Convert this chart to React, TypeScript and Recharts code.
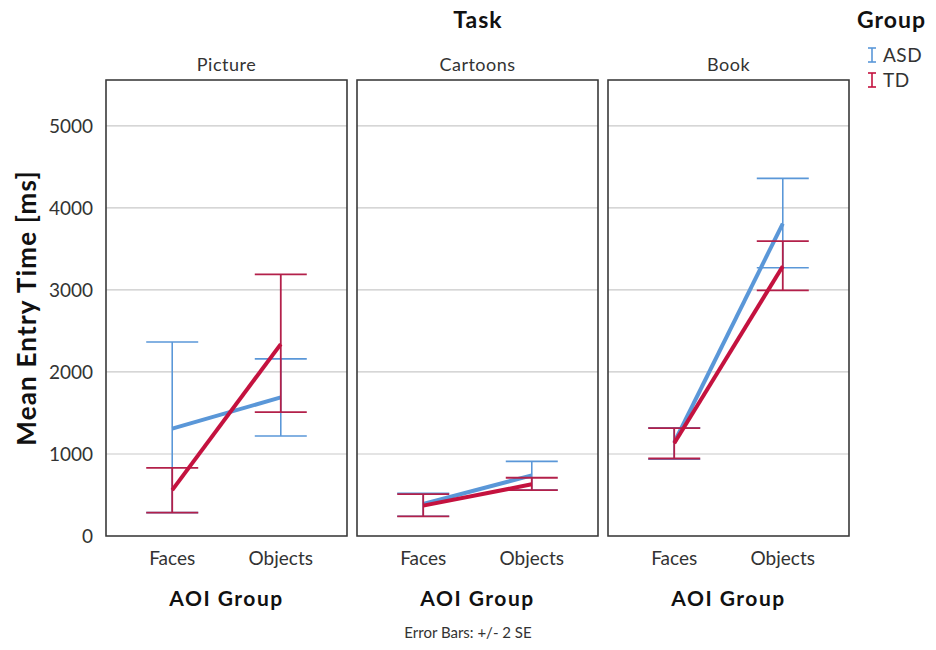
import { LineChart, Line, XAxis, YAxis, CartesianGrid, ErrorBar, ReferenceArea } from 'recharts';

const tasks = ['Picture', 'Cartoons', 'Book'];
const aoiCategories = ['Faces', 'Objects'];
const yTicks = [0, 1000, 2000, 3000, 4000, 5000];

// per task: [Faces, Objects]
const asdMeans = [[1310, 1690], [390, 740], [1140, 3810]];
const asdLow = [[285, 1220], [240, 560], [935, 3270]];
const asdHigh = [[2365, 2160], [520, 910], [1320, 4360]];
const tdMeans = [[560, 2340], [370, 630], [1130, 3290]];
const tdLow = [[285, 1510], [240, 560], [945, 2995]];
const tdHigh = [[830, 3190], [510, 710], [1315, 3595]];

const BLUE = '#5a97d8';
const RED = '#c4123f';
const FONT = 'Lato, "DejaVu Sans", sans-serif';
const X_MIN = 0.39;
const X_MAX = 2.61;
const Y_MAX = 5560;

function buildRows(t: number) {
  return aoiCategories.map((c, i) => ({
    pos: i + 1,
    aoi: c,
    asd: asdMeans[t][i],
    asdErr: [asdMeans[t][i] - asdLow[t][i], asdHigh[t][i] - asdMeans[t][i]],
    td: tdMeans[t][i],
    tdErr: [tdMeans[t][i] - tdLow[t][i], tdHigh[t][i] - tdMeans[t][i]],
  }));
}

function Panel({ t, left }: { t: number; left: number }) {
  const first = t === 0;
  const data = buildRows(t);
  return (
    <div style={{ position: 'absolute', left, top: 40 }}>
      <LineChart
        width={first ? 349 : 245}
        height={571}
        data={data}
        margin={{ top: 40, right: 2, bottom: 0, left: first ? 0 : 2 }}
      >
        <CartesianGrid vertical={false} stroke="#c9c9c9" strokeWidth={1.2} />
        <XAxis
          dataKey="pos"
          type="number"
          domain={[X_MIN, X_MAX]}
          ticks={[1, 2]}
          tickFormatter={(v: number) => aoiCategories[v - 1]}
          axisLine={false}
          tickLine={false}
          height={75}
          tickMargin={10}
          tick={{ fill: '#333', fontSize: 19, fontFamily: FONT }}
          label={{
            value: 'AOI Group',
            position: 'insideBottom',
            offset: 5,
            style: { fill: '#111', fontSize: 21, fontWeight: 700, fontFamily: FONT, letterSpacing: 1.5 },
          }}
        />
        <YAxis
          hide={!first}
          width={106}
          domain={[0, Y_MAX]}
          ticks={yTicks}
          axisLine={false}
          tickLine={false}
          tickMargin={7}
          tick={{ fill: '#333', fontSize: 19, fontFamily: FONT }}
          label={
            first
              ? {
                  value: 'Mean Entry Time [ms]',
                  angle: -90,
                  position: 'insideLeft',
                  offset: 27,
                  style: { textAnchor: 'middle', fill: '#111', fontSize: 26, fontWeight: 700, fontFamily: FONT, letterSpacing: 1.2 },
                }
              : undefined
          }
        />
        <ReferenceArea
          x1={X_MIN}
          x2={X_MAX}
          y1={0}
          y2={Y_MAX}
          ifOverflow="visible"
          fill="none"
          stroke="#3a3a3a"
          strokeWidth={1.6}
          label={{
            value: tasks[t],
            position: 'top',
            offset: 9,
            style: { fill: '#333', fontSize: 18, fontFamily: FONT, letterSpacing: 0.5 },
          }}
        />
        <Line
          dataKey="asd"
          stroke={BLUE}
          strokeWidth={4}
          dot={false}
          isAnimationActive={false}
        >
          <ErrorBar dataKey="asdErr" width={26} stroke={BLUE} strokeWidth={1.6} direction="y" isAnimationActive={false} />
        </Line>
        <Line
          dataKey="td"
          stroke={RED}
          strokeWidth={4}
          dot={false}
          isAnimationActive={false}
        >
          <ErrorBar dataKey="tdErr" width={26} stroke="#b3204a" strokeWidth={1.8} direction="y" isAnimationActive={false} />
        </Line>
      </LineChart>
    </div>
  );
}

function LegendIcon({ color }: { color: string }) {
  return (
    <svg width={12} height={18} style={{ marginRight: 5 }}>
      <line x1={2} y1={2} x2={10} y2={2} stroke={color} strokeWidth={1.6} />
      <line x1={6} y1={2} x2={6} y2={16} stroke={color} strokeWidth={1.6} />
      <line x1={2} y1={16} x2={10} y2={16} stroke={color} strokeWidth={1.6} />
    </svg>
  );
}

export default function App() {
  return (
    <div
      style={{
        position: 'absolute',
        left: 0,
        top: 0,
        width: 936,
        height: 650,
        background: '#fff',
        fontFamily: FONT,
        overflow: 'hidden',
      }}
    >
      <div style={{ position: 'absolute', left: 378, width: 200, top: 5, textAlign: 'center', fontSize: 23, fontWeight: 700, color: '#111', letterSpacing: 1 }}>
        Task
      </div>
      <Panel t={0} left={0} />
      <Panel t={1} left={355} />
      <Panel t={2} left={606} />
      <div style={{ position: 'absolute', left: 857, top: 5, fontSize: 23, fontWeight: 700, color: '#111', letterSpacing: 1 }}>Group</div>
      <div style={{ position: 'absolute', left: 866, top: 43, fontSize: 19, color: '#333', display: 'flex', alignItems: 'center', letterSpacing: 0.5 }}>
        <LegendIcon color={BLUE} />
        ASD
      </div>
      <div style={{ position: 'absolute', left: 866, top: 68, fontSize: 19, color: '#333', display: 'flex', alignItems: 'center', letterSpacing: 0.5 }}>
        <LegendIcon color={RED} />
        TD
      </div>
      <div style={{ position: 'absolute', left: 368, width: 200, top: 623, textAlign: 'center', fontSize: 15, color: '#333' }}>
        Error Bars: +/- 2 SE
      </div>
    </div>
  );
}
